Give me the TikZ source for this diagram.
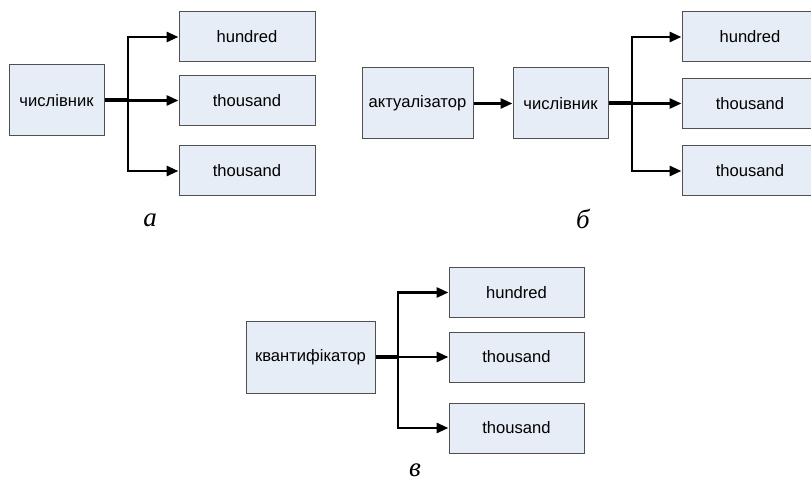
\documentclass[tikz,border=0pt]{standalone}
\usepackage{fontspec}
\setmainfont{Liberation Sans}
\newfontfamily\labfont{Liberation Serif}
\usetikzlibrary{arrows.meta}
\definecolor{boxfill}{RGB}{231,237,247}
\definecolor{boxline}{RGB}{80,80,80}
\begin{document}
\begin{tikzpicture}[x=1pt,y=-1pt,
  wbox/.style={draw=boxline,line width=1pt,fill=boxfill,inner sep=0pt,
    minimum width=136pt,minimum height=50pt,font=\fontsize{16.6}{18}\selectfont},
  srcbox/.style={wbox,minimum height=71pt},
  trunk/.style={line width=4pt},
  branch/.style={line width=2.8pt,-{Triangle[length=12pt,width=10pt]}},
  panellab/.style={font=\labfont\itshape\fontsize{27}{30}\selectfont,inner sep=0pt}]
\useasboundingbox (0,0) rectangle (811,486);
% panel a
\node[srcbox,minimum width=95pt] (a0) at (56.5,100.5) {числівник};
\node[wbox] (a1) at (247,37) {hundred};
\node[wbox] (a2) at (247,100.5) {thousand};
\node[wbox] (a3) at (247,171) {thousand};
\coordinate (aj) at (128,100.5);
\draw[trunk] (a0.east) -- (aj);
\draw[branch] (aj) |- (a1.west);
\draw[branch] (aj) -- (a2.west);
\draw[branch] (aj) |- (a3.west);
\node[panellab] (la) at (150,220) {а};
% panel b
\node[srcbox,minimum width=111pt] (b0) at (417.5,103.5) {актуалізатор};
\node[srcbox,minimum width=95pt] (b1) at (560.5,103.5) {числівник};
\node[wbox] (b2) at (750,37) {hundred};
\node[wbox] (b3) at (750,103.5) {thousand};
\node[wbox] (b4) at (750,171) {thousand};
\coordinate (bj) at (632,103.5);
\draw[branch] (b0.east) -- (b1.west);
\draw[trunk] (b1.east) -- (bj);
\draw[branch] (bj) |- (b2.west);
\draw[branch] (bj) -- (b3.west);
\draw[branch] (bj) |- (b4.west);
\node[panellab] (lb) at (583,219) {б};
% panel c
\node[srcbox,minimum width=129pt,minimum height=72pt] (c0) at (310.5,357) {квантифікатор};
\node[wbox,minimum width=135pt] (c1) at (516.5,292.5) {hundred};
\node[wbox,minimum width=135pt] (c2) at (516.5,357) {thousand};
\node[wbox,minimum width=135pt] (c3) at (516.5,428) {thousand};
\coordinate (cj) at (398,357);
\draw[trunk] (c0.east) -- (cj);
\draw[branch] (cj) |- (c1.west);
\draw[branch] (cj) -- (c2.west);
\draw[branch] (cj) |- (c3.west);
\node[panellab] (lc) at (415,470) {в};
\end{tikzpicture}
\end{document}
